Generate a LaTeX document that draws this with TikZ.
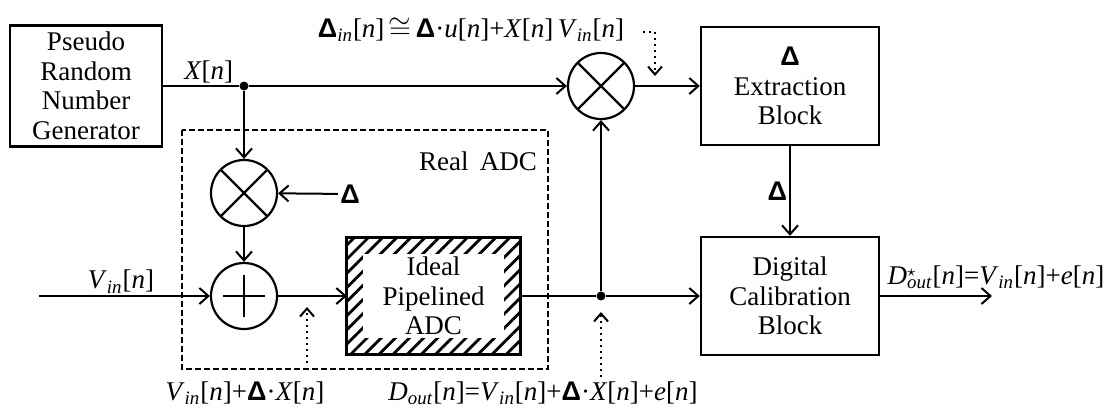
\documentclass[tikz,border=0pt]{standalone}
\usepackage{fontspec}
\setmainfont{Liberation Serif}
\newfontfamily\dltfont{Liberation Sans}
\usetikzlibrary{positioning, arrows.meta, patterns.meta}
\newcommand{\dlt}{{\dltfont\bfseries Δ}}
\newcommand{\sg}[1]{\textit{#1}[\textit{n}]}
\newcommand{\vin}{\textit{V}\textsubscript{\textit{in}}[\textit{n}]}

\begin{document}
\begin{tikzpicture}[x=0.5pt, y=-0.5pt,
    txt/.style={font=\fontsize{13.5}{14.75}\selectfont},
    block/.style={txt, rectangle, draw, line width=1.2pt, align=center, minimum width=89pt, minimum height=59pt},
    mult/.style={circle, draw, line width=1.1pt, minimum size=33pt, inner sep=0pt,
      path picture={\draw[line width=1.1pt] (path picture bounding box.north west) -- (path picture bounding box.south east)
        (path picture bounding box.north east) -- (path picture bounding box.south west);}},
    adder/.style={circle, draw, line width=1.1pt, minimum size=33pt, inner sep=0pt,
      path picture={\draw[line width=1.1pt] ([xshift=-10.5pt]path picture bounding box.center) -- ([xshift=10.5pt]path picture bounding box.center)
        ([yshift=-10.5pt]path picture bounding box.center) -- ([yshift=10.5pt]path picture bounding box.center);}},
    dot/.style={circle, fill, inner sep=0pt, minimum size=4.5pt},
    arr/.style={-{Straight Barb[length=4.5pt, width=8pt, line width=1pt]}, line width=1pt},
    note/.style={-{Straight Barb[length=4pt, width=7pt, line width=1pt]}, line width=1pt, dotted},
    lbl/.style={txt, inner sep=1pt},
  ]
    \useasboundingbox (0,0) rectangle (1107,408);

    % blocks
    \node[block, minimum width=76pt] (prng) at (86,86) {Pseudo\\Random\\Number\\Generator};
    \node[block] (ext) at (790,86) {\dlt\\Extraction\\Block};
    \node[block] (cal) at (790,296) {Digital\\Calibration\\Block};
    \node[block, draw=none, minimum width=85.5pt, minimum height=57pt] (ideal) at (433.5,296) {Ideal\\Pipelined\\ADC};
    \fill[pattern={Lines[angle=45, distance=5pt, line width=1.4pt]}, even odd rule]
      (ideal.south west) rectangle (ideal.north east)
      ([xshift=8pt, yshift=8pt]ideal.south west) rectangle ([xshift=-8pt, yshift=-8pt]ideal.north east);
    \draw[line width=1.5pt] (ideal.south west) rectangle (ideal.north east);

    % real ADC frame
    \draw[line width=1pt, dash pattern=on 3pt off 1.5pt] (182,130) rectangle (548,369);
    \node[lbl] (real) at (478,161) {Real\, ADC};

    % operators and junctions
    \node[mult] (mulA) at (601,86) {};
    \node[mult] (mulB) at (244,193) {};
    \node[adder] (add) at (244,296) {};
    \node[dot] (j1) at (244,86) {};
    \node[dot] (j2) at (601,296) {};
    \node[lbl] (dIn) at (350,194) {\dlt};
    \coordinate (vin) at (39,296);
    \coordinate (out) at (992,296);

    % signal paths
    \draw[line width=1pt] (prng) -- node[lbl, above, pos=0.6] {\sg{X}} (j1);
    \draw[arr] (j1) -- (mulA);
    \draw[arr] (j1) -- (mulB);
    \draw[arr] (dIn) -- (mulB);
    \draw[arr] (mulB) -- (add);
    \draw[arr] (vin) -- node[lbl, above, pos=0.48] {\vin} (add);
    \draw[arr] (add) -- (ideal);
    \draw[line width=1pt] (ideal) -- (j2);
    \draw[arr] (j2) -- (cal);
    \draw[arr] (j2) -- (mulA);
    \draw[arr] (mulA) -- (ext);
    \draw[arr] (ext) -- node[lbl, left] {\dlt} (cal);
    \draw[arr] (cal) -- (out);
    \node[lbl] (outLbl) at (996,277) {\textit{D}\rlap{\raisebox{0.6ex}{\footnotesize$\star$}}\textsubscript{\textit{out}}[\textit{n}]=\vin+\sg{e}};

    % annotations
    \node[lbl] (topLbl) at (471,30) {\dlt\textsubscript{\textit{in}}[\textit{n}]\,$\cong$\,\dlt·\sg{u}+\sg{X}\,\vin};
    \node[lbl] (sumLbl) at (245,393) {\vin+\dlt·\sg{X}};
    \node[lbl] (doutLbl) at (543,393) {\textit{D}\textsubscript{\textit{out}}[\textit{n}]=\vin+\dlt·\sg{X}+\sg{e}};
    \coordinate (t0) at (643,32);
    \coordinate (t1) at (655,76);
    \draw[note] (t0) -| (t1);
    \draw[note] (307,363) -- (307,307);
    \draw[note] (601,377) -- (601,312);
  \end{tikzpicture}
\end{document}
